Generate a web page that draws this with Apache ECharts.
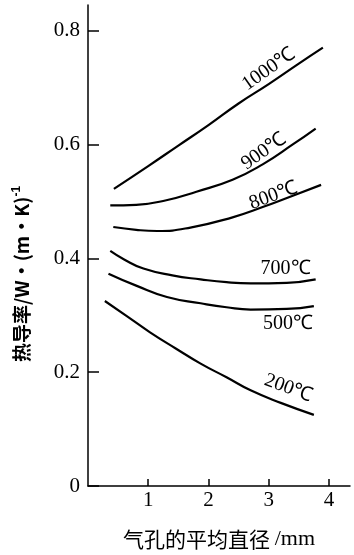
<!DOCTYPE html>
<html>
<head>
<meta charset="utf-8">
<script src="https://cdn.jsdelivr.net/npm/echarts@6/dist/echarts.min.js"></script>
<style>
html,body{margin:0;padding:0;background:#fff;}
#chart{width:354px;height:555px;}
</style>
</head>
<body>
<div id="chart"></div>
<script>
// 气孔平均直径 (mm) 与热导率 W/(m·K)
var t1000 = [[0.43,0.522],[1.0,0.562],[1.5,0.598],[2.0,0.634],[2.5,0.672],[3.0,0.706],[3.5,0.742],[3.9,0.770]];
var t900 = [[0.37,0.493],[0.8,0.494],[1.3,0.502],[1.8,0.517],[2.4,0.538],[2.9,0.565],[3.4,0.600],[3.78,0.628]];
var t800 = [[0.42,0.455],[0.8,0.450],[1.15,0.448],[1.7,0.454],[2.4,0.472],[2.9,0.490],[3.4,0.510],[3.87,0.529]];
var t700 = [[0.37,0.413],[0.6,0.398],[0.92,0.382],[1.4,0.370],[1.87,0.363],[2.3,0.358],[2.7,0.356],[3.3,0.357],[3.78,0.363]];
var t500 = [[0.34,0.373],[0.8,0.352],[1.31,0.332],[1.87,0.321],[2.3,0.314],[2.7,0.310],[3.3,0.311],[3.75,0.316]];
var t200 = [[0.28,0.325],[0.65,0.298],[1.03,0.270],[1.45,0.242],[1.87,0.215],[2.3,0.191],[2.7,0.168],[3.2,0.146],[3.75,0.125]];
var seriesNames = ['1000℃','900℃','800℃','700℃','500℃','200℃'];
var seriesData = [t1000, t900, t800, t700, t500, t200];
// 标注位置 [x, y, 旋转角度]
var labelAt = [[3.0,0.732,35],[2.92,0.588,35],[3.08,0.51,20],[3.28,0.382,0],[3.32,0.285,0],[3.33,0.172,-20]];
var xTicks = [1,2,3,4];
var yTicks = [0,0.2,0.4,0.6,0.8];

var chart = echarts.init(document.getElementById('chart'));
var serif = '"Liberation Serif", "Times New Roman", serif';
var cjk = '"Noto Sans CJK SC", sans-serif';

var series = [];
for (var i = 0; i < seriesData.length; i++) {
    series.push({
        name: seriesNames[i],
        type: 'line',
        data: seriesData[i],
        smooth: true,
        symbol: 'none',
        lineStyle: {color: '#000', width: 2.2},
        markPoint: {
            symbol: 'circle',
            symbolSize: 0,
            data: [{
                coord: [labelAt[i][0], labelAt[i][1]],
                label: {
                    show: true,
                    position: 'inside',
                    formatter: seriesNames[i],
                    rotate: labelAt[i][2],
                    color: '#000',
                    fontSize: 20,
                    fontFamily: serif
                }
            }]
        }
    });
}

option = {
    animation: false,
    backgroundColor: '#fff',
    grid: {left: 88, right: 4, top: 5, bottom: 63},
    xAxis: {
        type: 'value',
        min: 0,
        max: 4.35,
        axisLine: {lineStyle: {color: '#000', width: 1.5}},
        axisTick: {inside: true, length: 7, customValues: xTicks, lineStyle: {color: '#000', width: 1.5}},
        axisLabel: {customValues: xTicks, color: '#000', fontSize: 21, fontFamily: serif, margin: 4},
        splitLine: {show: false},
        name: '气孔的平均直径 {u|/mm}',
        nameLocation: 'middle',
        nameGap: 42,
        nameTextStyle: {
            color: '#000', fontSize: 21, fontFamily: cjk,
            rich: {u: {fontSize: 22, fontFamily: serif, color: '#000'}}
        }
    },
    yAxis: {
        type: 'value',
        min: 0,
        max: 0.845,
        axisLine: {show: true, lineStyle: {color: '#000', width: 1.5}},
        axisTick: {show: true, inside: true, length: 11, customValues: yTicks, lineStyle: {color: '#000', width: 1.5}},
        axisLabel: {customValues: yTicks, color: '#000', fontSize: 21, fontFamily: serif, margin: 8},
        splitLine: {show: false}
    },
    graphic: [{
        type: 'text',
        x: 22,
        y: 274,
        rotation: Math.PI / 2,
        style: {
            text: '热导率/W·(m·K){s|-1}',
            fill: '#000',
            font: 'bold 19px ' + cjk,
            align: 'center',
            verticalAlign: 'middle',
            rich: {s: {fontSize: 12, fontWeight: 'bold', verticalAlign: 'top', padding: [0,0,10,0]}}
        }
    }],
    series: series
};
chart.setOption(option);
</script>
</body>
</html>
